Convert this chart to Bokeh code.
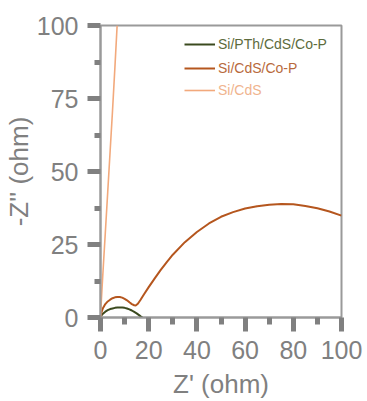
from bokeh.plotting import figure
from bokeh.models import Legend, LegendItem, FixedTicker, Range1d
from bokeh.embed import file_html
from bokeh.resources import INLINE

# Si/PTh/CdS/Co-P
pth_x = [0, 0.5, 1, 2, 3, 4, 5, 6, 7, 8, 9, 10, 11, 12, 13, 14, 15, 16, 16.8, 17.4]
pth_y = [0, 0.8, 1.3, 2.0, 2.5, 2.9, 3.1, 3.3, 3.4, 3.45, 3.4, 3.3, 3.1, 2.8, 2.4, 1.9, 1.4, 0.8, 0.3, 0]

# Si/CdS/Co-P
cdscop_x = [0, 0.5, 1, 2, 3, 4, 5, 6, 7, 8, 9, 10, 11, 12, 13, 14, 14.6, 15.5, 16.5, 18, 20, 22.5,
            25, 27.5, 30, 35, 40, 45, 50, 55, 60, 65, 70, 75, 80, 85, 90, 95, 100]
cdscop_y = [0, 2.0, 3.2, 4.6, 5.5, 6.1, 6.6, 6.9, 7.0, 7.0, 6.8, 6.4, 5.9, 5.2, 4.6, 4.2, 4.1, 4.7, 5.9, 7.9, 10.4, 13.4,
            16.3, 19.0, 21.5, 25.8, 29.3, 32.2, 34.5, 36.1, 37.3, 38.1, 38.6, 38.9, 38.8, 38.2, 37.4, 36.3, 34.9]

# Si/CdS
cds_x = [0, 0.3, 0.7, 1.2, 2.0, 3.0, 4.0, 5.0, 6.0, 6.9]
cds_y = [0, 5, 11, 18, 29, 43, 57, 71, 86, 100]

x_major = [0, 20, 40, 60, 80, 100]
x_minor = [10, 30, 50, 70, 90]
y_major = [0, 25, 50, 75, 100]
y_minor = [12.5, 37.5, 62.5, 87.5]

names = ["Si/PTh/CdS/Co-P", "Si/CdS/Co-P", "Si/CdS"]
colors = ["#3b4a1f", "#b5561e", "#f2a97c"]
text_colors = ["#5d6b3c", "#b86a3c", "#f0b48e"]

p = figure(width=367, height=401, output_backend="svg", toolbar_location=None,
           x_range=Range1d(0, 100), y_range=Range1d(0, 100),
           min_border_left=100, min_border_right=26, min_border_top=25, min_border_bottom=84)

p.grid.visible = False
p.background_fill_color = "white"
p.border_fill_color = "white"
p.outline_line_color = "#9a9a9a"
p.outline_line_width = 2

r1 = p.line(pth_x, pth_y, line_color=colors[0], line_width=2)
r2 = p.line(cdscop_x, cdscop_y, line_color=colors[1], line_width=2)
r3 = p.line(cds_x, cds_y, line_color=colors[2], line_width=1.6)

p.xaxis.ticker = FixedTicker(ticks=x_major, minor_ticks=x_minor)
p.yaxis.ticker = FixedTicker(ticks=y_major, minor_ticks=y_minor)

for ax in (p.xaxis[0], p.yaxis[0]):
    ax.axis_line_color = "#9a9a9a"
    ax.axis_line_width = 2
    ax.major_tick_line_color = "#808080"
    ax.minor_tick_line_color = "#808080"
    ax.major_tick_line_width = 5
    ax.minor_tick_line_width = 5
    ax.major_tick_in = 0
    ax.minor_tick_in = 0
    ax.major_label_text_font = "Liberation Sans"
    ax.major_label_text_font_size = "25px"
    ax.major_label_text_color = "#808080"
    ax.axis_label_text_font = "Liberation Sans"
    ax.axis_label_text_font_size = "26px"
    ax.axis_label_text_font_style = "normal"
    ax.axis_label_text_color = "#808080"

p.xaxis.major_tick_out = 14
p.xaxis.minor_tick_out = 7
p.yaxis.major_tick_out = 13
p.yaxis.minor_tick_out = 6
p.xaxis.major_label_standoff = 9
p.yaxis.major_label_standoff = 9
p.xaxis.axis_label = "Z' (ohm)"
p.yaxis.axis_label = "-Z'' (ohm)"
p.xaxis.axis_label_standoff = 7
p.yaxis.axis_label_standoff = 0

renderers = [r1, r2, r3]
ys = [263, 239, 217]
for name, r, tc, yy in zip(names, renderers, text_colors, ys):
    lg = Legend(items=[LegendItem(label=name, renderers=[r])], location=(84, yy),
                border_line_color=None, background_fill_alpha=0,
                label_text_color=tc, label_text_font="Liberation Sans",
                label_text_font_size="14px", glyph_width=31, glyph_height=20,
                label_height=20, label_standoff=3, padding=0, margin=0, spacing=0)
    p.add_layout(lg, "center")

open("out.html", "w").write(file_html(p, INLINE))
